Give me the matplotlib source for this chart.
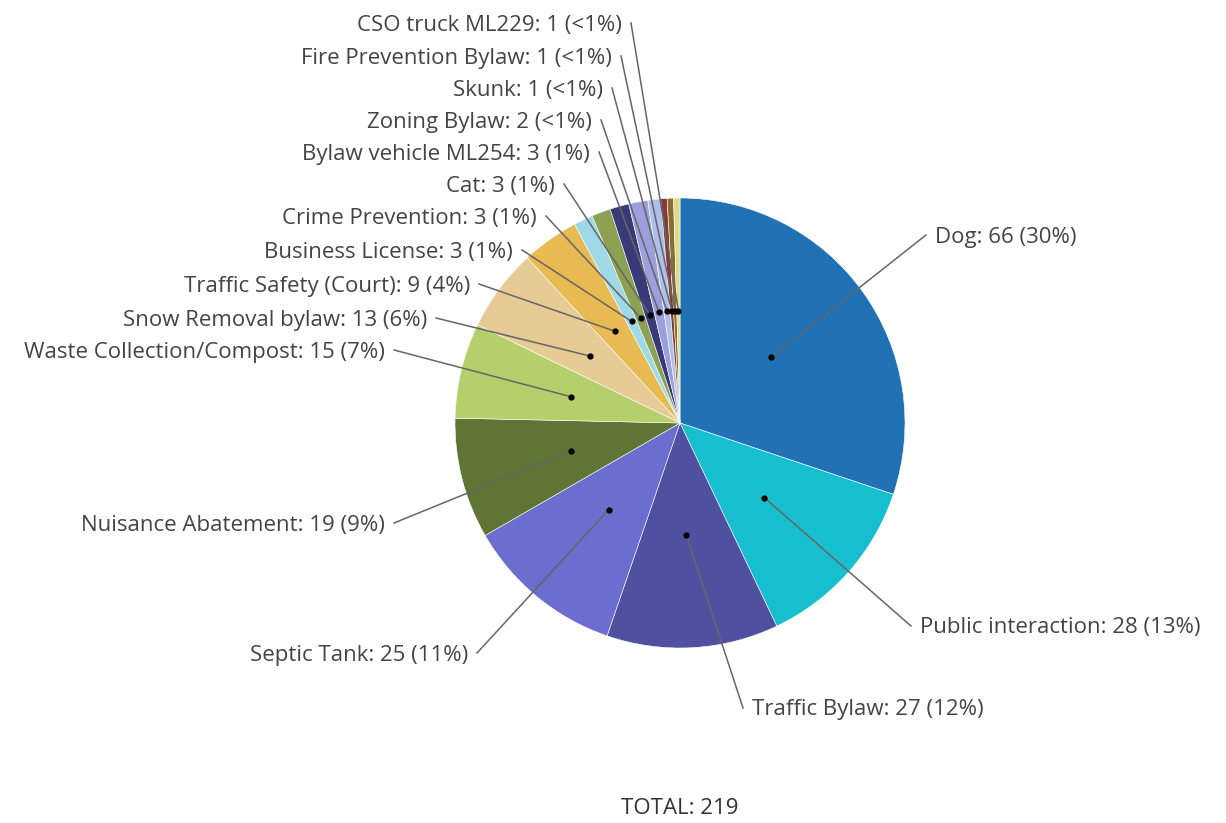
import numpy as np
import matplotlib
matplotlib.use('Agg')
from matplotlib import pyplot as plt

plt.rcParams['font.family'] = ['Open Sans', 'DejaVu Sans']

# data, clockwise from 12 o'clock
categories = [
    'Dog', 'Public interaction', 'Traffic Bylaw', 'Septic Tank',
    'Nuisance Abatement', 'Waste Collection/Compost', 'Snow Removal bylaw',
    'Traffic Safety (Court)', 'Business License', 'Crime Prevention', 'Cat',
    'Bylaw vehicle ML254', 'Zoning Bylaw', 'Skunk', 'Fire Prevention Bylaw',
    'CSO truck ML229',
]
counts = [66, 28, 27, 25, 19, 15, 13, 9, 3, 3, 3, 3, 2, 1, 1, 1]
colors = [
    '#2171b5', '#17becf', '#4f51a0', '#6b6ecf', '#5e7535', '#b5cf6b',
    '#e7cb94', '#e7ba52', '#9edae5', '#8ca252', '#393b79', '#9c9ede',
    '#aec0ea', '#843c39', '#8c6d31', '#dbdb8d',
]

# label anchors in pixels (x, y from top); right side labels start there,
# left side labels end there
label_pos = [
    (935, 237), (920, 628), (752, 710), (468, 655), (385, 525), (385, 352),
    (427, 320), (470, 286), (513, 252), (537, 218), (555, 186), (590, 154),
    (592, 122), (603, 90), (612, 58), (622, 25),
]

W, H = 1226, 823
cx, cy, r = 680, H - 423, 225

fig = plt.figure(figsize=(W / 100, H / 100), dpi=100)
ax = fig.add_axes([0, 0, 1, 1])

wedges, _ = ax.pie(
    counts,
    colors=colors,
    startangle=90,
    counterclock=False,
    center=(cx, cy),
    radius=r,
    wedgeprops=dict(linewidth=0.4, edgecolor='white'),
    frame=True,
)
ax.set_xlim(0, W)
ax.set_ylim(0, H)
ax.set_aspect('equal')
ax.axis('off')

total = sum(counts)
for w, name, n, (lx, ly) in zip(wedges, categories, counts, label_pos):
    ang = np.deg2rad((w.theta1 + w.theta2) / 2)
    px = cx + 0.5 * r * np.cos(ang)
    py = cy + 0.5 * r * np.sin(ang)
    pct = n / total * 100
    pct_txt = '<1%' if pct < 1 else f'{pct:.0f}%'
    text = f'{name}: {n} ({pct_txt})'
    y = H - ly
    right = lx > cx
    ha = 'left' if right else 'right'
    sx = lx - 9 if right else lx + 9
    ax.plot([sx, px], [y + 2, py], color='#666666', lw=1.1, zorder=3)
    ax.plot(px, py, 'o', color='black', ms=3.5, zorder=4)
    ax.text(lx, y, text, ha=ha, va='center', fontsize=16, color='#444444')

ax.text(cx, H - 808, f'TOTAL: {total}', ha='center', va='center',
        fontsize=16, color='#333333')

fig.savefig('out.png', dpi=100)
